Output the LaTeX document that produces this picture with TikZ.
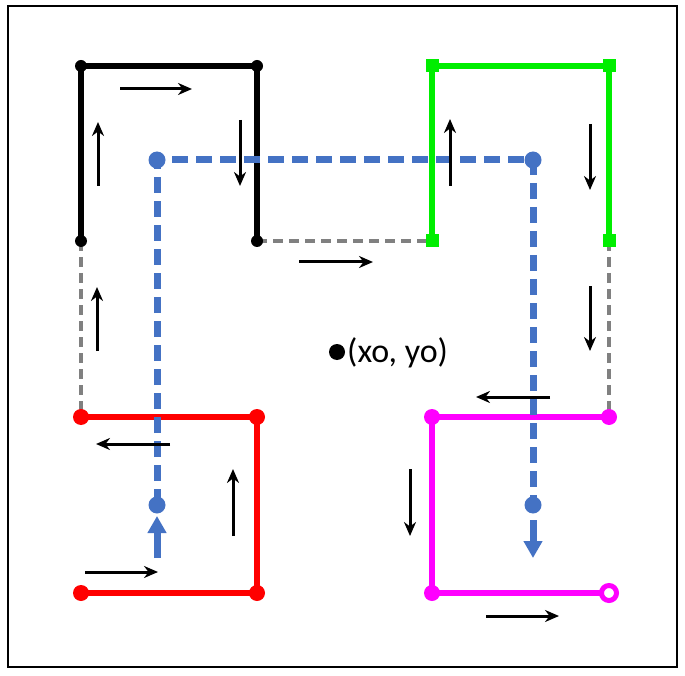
\documentclass[tikz,border=0pt]{standalone}
\usepackage{fontspec}
\setmainfont{Carlito}
\usetikzlibrary{arrows.meta}
\definecolor{bblue}{RGB}{68,114,196}
\definecolor{ggreen}{RGB}{0,238,0}
\definecolor{mmag}{RGB}{255,0,255}
\definecolor{rred}{RGB}{255,0,0}
\tikzset{
  path/.style={line width=6pt},
  dot/.style={circle,fill,inner sep=0pt,minimum size=#1},
  sq/.style={rectangle,fill=ggreen,inner sep=0pt,minimum size=13pt},
  gap/.style={draw=gray,line width=3.5pt,dash pattern=on 10pt off 6pt},
  flow/.style={line width=3pt,-{Stealth[length=14pt,width=12pt]}},
  route/.style={draw=bblue,line width=7pt,dash pattern=on 16pt off 8pt},
  bigarrow/.style={draw=bblue,line width=7pt,-{Triangle[length=17pt,width=18pt]}}
}
\begin{document}
\begin{tikzpicture}[x=1pt,y=-1pt]
\useasboundingbox (0,0) rectangle (685,676);
\draw[line width=1.4pt] (8,6) rectangle (677,667);
% corner coordinates
\coordinate (k1) at (81,66); \coordinate (k2) at (257,66);
\coordinate (k0) at (81,241); \coordinate (k3) at (257,241);
\coordinate (g0) at (432,241); \coordinate (g1) at (432,66);
\coordinate (g2) at (609,66); \coordinate (g3) at (609,241);
\coordinate (r0) at (81,417); \coordinate (r1) at (257,417);
\coordinate (r2) at (257,593); \coordinate (r3) at (81,593);
\coordinate (m0) at (609,417); \coordinate (m1) at (432,417);
\coordinate (m2) at (432,593); \coordinate (m3) at (609,593);
% gray dashed joins
\draw[gap] (k0) -- (r0);
\draw[gap] (k3) -- (g0);
\draw[gap] (g3) -- (m0);
% colored paths
\draw[path,black] (k0) -- (k1) -- (k2) -- (k3);
\draw[path,ggreen] (g0) -- (g1) -- (g2) -- (g3);
\draw[path,rred] (r0) -- (r1) -- (r2) -- (r3);
\draw[path,mmag] (m0) -- (m1) -- (m2) -- (m3);
% markers
\foreach \p in {k0,k1,k2,k3} \node[dot=12pt,fill=black] at (\p) {};
\foreach \p in {g0,g1,g2,g3} \node[sq] at (\p) {};
\foreach \p in {r0,r1,r2,r3} \node[dot=16pt,fill=rred] at (\p) {};
\foreach \p in {m0,m1,m2} \node[dot=16pt,fill=mmag] at (\p) {};
\node[circle,draw=mmag,fill=white,line width=5pt,inner sep=0pt,minimum size=15pt] at (m3) {};
% blue route
\coordinate (b0) at (157,505); \coordinate (b1) at (157,160);
\coordinate (b2) at (533,160); \coordinate (b3) at (533,505);
\coordinate (bs) at (157,558); \coordinate (be) at (533,558);
\draw[route] (b0) -- (b1) -- (b2) -- (b3);
\foreach \p in {b0,b1,b2,b3} \node[dot=17pt,fill=bblue] at (\p) {};
\draw[bigarrow] (bs) -- (157,516);
\draw[bigarrow] (533,520) -- (be);
% black flow arrows
\draw[flow] (120,89) -- (192,89);
\draw[flow] (98,186) -- (98,122);
\draw[flow] (240,120) -- (240,186);
\draw[flow] (299,262) -- (373,262);
\draw[flow] (97,351) -- (97,287);
\draw[flow] (450,186) -- (450,119);
\draw[flow] (590,124) -- (590,190);
\draw[flow] (590,286) -- (590,351);
\draw[flow] (170,444) -- (96,444);
\draw[flow] (233,536) -- (233,469);
\draw[flow] (85,572) -- (158,572);
\draw[flow] (550,397) -- (476,397);
\draw[flow] (410,469) -- (410,536);
\draw[flow] (486,616) -- (559,616);
% center point
\node[dot=16pt,fill=black] (c) at (337,352) {};
\node[anchor=west,inner sep=0pt,font=\fontsize{34}{40}\selectfont] (lab) at (347,353) {(xo, yo)};
\end{tikzpicture}
\end{document}
